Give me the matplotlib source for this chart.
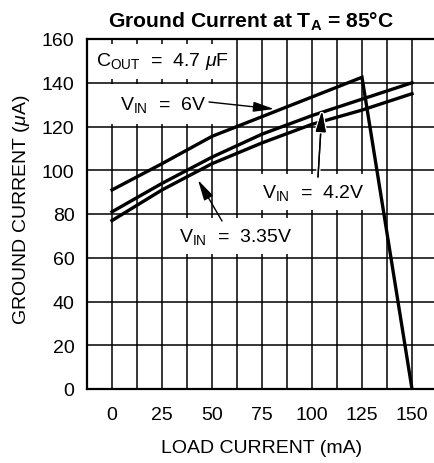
import matplotlib
matplotlib.use("Agg")
import matplotlib.pyplot as plt
import matplotlib.patheffects as pe

plt.rcParams['font.family'] = ['Liberation Sans Narrow', 'Liberation Sans', 'DejaVu Sans']
plt.rcParams['mathtext.fontset'] = 'custom'
plt.rcParams['mathtext.rm'] = 'Liberation Sans'
plt.rcParams['mathtext.it'] = 'Liberation Sans:italic'
plt.rcParams['mathtext.bf'] = 'Liberation Sans:bold'

# ---- data ----
load_ma = [0, 25, 50, 75, 100, 125, 150]
vin_6v = [91, 103, 115.5, 124.5, 133.5, 142.5, 0]
vin_4v2 = [81, 94, 106, 116.5, 125, 132.5, 140]
vin_3v35 = [77, 91, 103, 112.5, 121, 127.5, 135]
x_ticks = [0, 25, 50, 75, 100, 125, 150]
x_grid = [0, 12.5, 25, 37.5, 50, 62.5, 75, 87.5, 100, 112.5, 125, 137.5, 150]
y_ticks = [0, 20, 40, 60, 80, 100, 120, 140, 160]

W, H = 435, 464
fig = plt.figure(figsize=(W / 100, H / 100), dpi=100)
ax = fig.add_axes([87 / W, (H - 390) / H, (437 - 87) / W, (390 - 40) / H])
ax.set_xlim(-12.5, 162.5)
ax.set_ylim(0, 160)

# grid
for gx in x_grid:
    ax.axvline(gx, color='black', lw=1.1, zorder=1)
for gy in y_ticks[1:-1]:
    ax.axhline(gy, color='black', lw=1.1, zorder=1)

for s in ax.spines.values():
    s.set_linewidth(1.6)
    s.set_zorder(5)

ax.set_xticks(x_ticks)
ax.set_xticklabels([str(v) for v in x_ticks])
ax.set_yticks(y_ticks)
ax.set_yticklabels([str(v) for v in y_ticks])
ax.tick_params(axis='both', length=0, labelsize=14)
ax.tick_params(axis='x', pad=12)
ax.tick_params(axis='y', pad=9)

# data lines
for ys in (vin_6v, vin_4v2, vin_3v35):
    ax.plot(load_ma, ys, color='black', lw=2.4, zorder=4, solid_joinstyle='miter')

def px2d(px, py):
    return ((px - 113) / 2.0, 160 - (py - 40) / 2.1875)

tkw = dict(fontsize=14, va='center', ha='left', zorder=3)

ax.text(*px2d(97, 62), r'C$_{\mathrm{OUT}}$  =  4.7 $\mu$F', bbox=dict(facecolor='white', edgecolor='none', pad=5), **tkw)
ax.text(*px2d(121, 105), r'V$_{\mathrm{IN}}$  =  6V', bbox=dict(facecolor='white', edgecolor='none', pad=7), **tkw)
ax.text(*px2d(263, 193), r'V$_{\mathrm{IN}}$  =  4.2V', bbox=dict(facecolor='white', edgecolor='none', pad=6), **tkw)
ax.text(*px2d(180, 237), r'V$_{\mathrm{IN}}$  =  3.35V', bbox=dict(facecolor='white', edgecolor='none', pad=6), **tkw)

arrow = dict(arrowstyle='-|>,head_length=0.9,head_width=0.22', color='black', lw=1.0,
             mutation_scale=14, shrinkA=0, shrinkB=0)
ax.annotate('', xy=px2d(275, 110), xytext=px2d(210, 103), arrowprops=arrow, zorder=6)
a2 = ax.annotate('', xy=px2d(323, 112), xytext=px2d(319, 178), arrowprops=arrow, zorder=6)
a2.arrow_patch.set_path_effects([pe.withStroke(linewidth=3, foreground='white'), pe.Normal()])
ax.annotate('', xy=px2d(199, 181), xytext=px2d(223, 222), arrowprops=arrow, zorder=6)

fig.text(251 / W, 1 - 22 / H, r'Ground Current at T$_{\mathbf{A}}$ = 85°C',
         fontsize=15.2, fontweight='bold', family=['Liberation Sans', 'DejaVu Sans'],
         ha='center', va='center')
fig.text(262 / W, 1 - 449 / H, 'LOAD CURRENT (mA)', fontsize=14, ha='center', va='center')
fig.text(22 / W, 1 - 210 / H, r'GROUND CURRENT ($\mu$A)', fontsize=14, rotation=90,
         ha='center', va='center')

fig.savefig('out.png', dpi=100)
